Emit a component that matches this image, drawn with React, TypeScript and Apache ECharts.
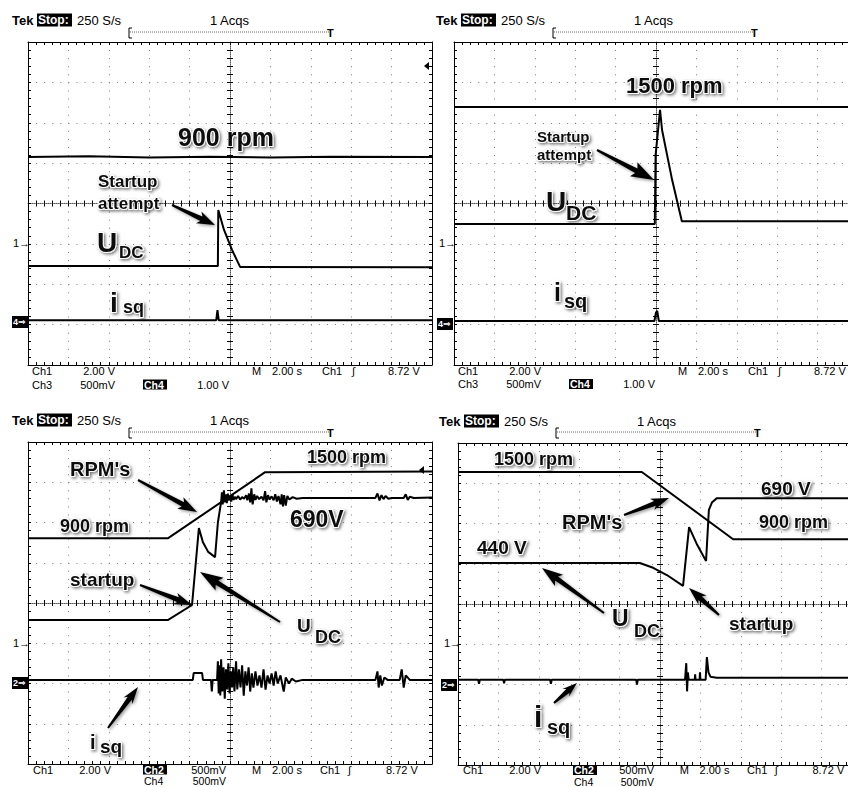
import React, { useEffect, useRef } from "react";
import * as echarts from "echarts";

// ---------- scope screen (divisions): x 0..10, y 0..8 ----------
const X_MIN = 0;
const X_MAX = 10;
const Y_MIN = 0;
const Y_MAX = 8;

// ---------- Panel 1: 900 rpm, startup attempt ----------
const p1Rpm = [[0, 5.15], [1.5, 5.17], [3, 5.14], [4.5, 5.16], [6, 5.14], [7.5, 5.16], [10, 5.15]];
const p1Udc = [[0, 2.45], [4.7, 2.45], [4.71, 3.84], [4.85, 3.35], [5.05, 2.85], [5.25, 2.43], [10, 2.42]];
const p1Isq = [[0, 1.11], [4.66, 1.11], [4.69, 1.36], [4.72, 1.11], [10, 1.11]];

// ---------- Panel 2: 1500 rpm, startup attempt ----------
const p2Rpm = [[0, 6.39], [10, 6.39]];
const p2Udc = [[0, 3.49], [4.97, 3.49], [4.99, 5.2], [5.1, 6.32], [5.15, 5.82], [5.4, 4.58], [5.64, 3.56], [10, 3.56]];
const p2Isq = [[0, 1.09], [4.96, 1.09], [5.0, 1.3], [5.03, 1.34], [5.07, 1.09], [10, 1.09]];

// ---------- Panel 3: 900 -> 1500 rpm, startup ----------
const p3Rpm = [[0, 5.61], [3.47, 5.61], [5.87, 7.25], [10, 7.27]];
const p3Udc = [
  [0, 3.58], [3.47, 3.58], [4.06, 3.95], [4.23, 5.86], [4.33, 5.51], [4.46, 5.27], [4.63, 5.14], [4.7, 6.0], [4.78, 6.51],
  [4.8, 6.75], [4.82, 6.45], [4.85, 6.8], [4.87, 6.5], [4.9, 6.7], [4.92, 6.48], [4.95, 6.72], [4.97, 6.55], [5.0, 6.66],
  [5.03, 6.52], [5.06, 6.7], [5.09, 6.56], [5.12, 6.64], [5.15, 6.58], [5.2, 6.66], [5.25, 6.57], [5.3, 6.63], [5.35, 6.59],
  [5.4, 6.68], [5.43, 6.55], [5.47, 6.72], [5.5, 6.5], [5.53, 6.85], [5.56, 6.45], [5.6, 6.7], [5.63, 6.56], [5.67, 6.66],
  [5.72, 6.58], [5.78, 6.64], [5.83, 6.55], [5.87, 6.78], [5.9, 6.5], [5.94, 6.68], [5.98, 6.57], [6.03, 6.65], [6.08, 6.55],
  [6.12, 6.7], [6.16, 6.52], [6.2, 6.66], [6.25, 6.45], [6.28, 6.7], [6.31, 6.4], [6.34, 6.68], [6.38, 6.42], [6.42, 6.66],
  [6.47, 6.57], [6.55, 6.63], [6.65, 6.59], [6.8, 6.61], [8.6, 6.61], [8.65, 6.72], [8.7, 6.55], [8.75, 6.68], [8.8, 6.58],
  [8.85, 6.66], [8.92, 6.59], [9.0, 6.61], [9.3, 6.61], [9.35, 6.7], [9.4, 6.56], [9.45, 6.64], [9.55, 6.61], [10, 6.62],
];
const p3Isq = [
  [0, 2.09], [4.08, 2.09], [4.1, 2.26], [4.31, 2.26], [4.33, 2.09], [4.53, 2.09], [4.55, 1.8], [4.57, 2.09], [4.68, 2.09],
  [4.7, 2.55], [4.72, 1.75], [4.74, 2.45], [4.76, 1.7], [4.78, 2.6], [4.81, 1.8], [4.84, 2.4], [4.87, 1.62], [4.9, 2.35],
  [4.93, 1.85], [4.96, 2.5], [4.99, 1.75], [5.02, 2.3], [5.05, 1.9], [5.08, 2.4], [5.11, 1.8], [5.15, 2.55], [5.18, 1.85],
  [5.22, 2.35], [5.26, 1.9], [5.3, 2.45], [5.34, 1.7], [5.38, 2.3], [5.42, 1.95], [5.46, 2.4], [5.5, 1.8], [5.54, 2.25],
  [5.58, 1.9], [5.63, 2.3], [5.68, 1.95], [5.73, 2.2], [5.78, 1.9], [5.83, 2.35], [5.88, 1.85], [5.93, 2.2], [5.98, 2.0],
  [6.03, 2.25], [6.08, 1.95], [6.13, 2.3], [6.18, 2.0], [6.25, 2.2], [6.33, 1.8], [6.38, 2.15], [6.46, 2.0], [6.53, 2.12],
  [6.63, 2.05], [6.8, 2.09], [8.6, 2.09], [8.65, 2.3], [8.68, 1.9], [8.72, 2.2], [8.76, 1.95], [8.82, 2.15], [8.9, 2.09],
  [9.2, 2.09], [9.25, 2.35], [9.3, 1.9], [9.35, 2.2], [9.45, 2.09], [10, 2.09],
];

// ---------- Panel 4: 1500 -> 900 rpm, startup ----------
const p4Rpm = [[0, 7.28], [4.55, 7.28], [6.81, 5.61], [10, 5.61]];
const p4Udc = [
  [0, 5.02], [4.5, 5.02], [4.83, 4.9], [5.17, 4.72], [5.57, 4.45], [5.72, 5.91], [5.92, 5.47], [6.14, 5.07],
  [6.21, 6.34], [6.29, 6.53], [6.41, 6.63], [10, 6.63],
];
const p4Isq = [
  [0, 2.12], [0.5, 2.12], [0.52, 2.02], [0.54, 2.12], [1.12, 2.12], [1.14, 2.03], [1.16, 2.12], [2.28, 2.12], [2.3, 2.02],
  [2.32, 2.12], [4.41, 2.12], [4.43, 2.0], [4.45, 2.12], [5.62, 2.12], [5.65, 2.53], [5.67, 1.83], [5.69, 2.3], [5.71, 2.12],
  [5.86, 2.12], [5.87, 2.25], [5.88, 2.12], [5.98, 2.12], [5.99, 2.3], [6.0, 2.12], [6.13, 2.12], [6.16, 2.68], [6.2, 2.3],
  [6.25, 2.19], [6.4, 2.17], [10, 2.17],
];

// ---------- texts ----------
const HEADER = ["Tek", "Stop:", "250 S/s", "1 Acqs"];
const CH_MARK = "1\u2192";
const PANEL_LAYOUT = [
  { left: 28, top: 42, width: 404, height: 323 },
  { left: 454, top: 42, width: 404, height: 323 },
  { left: 28, top: 442, width: 404, height: 322 },
  { left: 458, top: 443, width: 404, height: 322 },
];
const AXES_PER_GRID = 5;

const FONT_UI = "'Liberation Sans', 'DejaVu Sans', sans-serif";
const FONT_ANN = "'Liberation Sans', Arial, sans-serif";

function txt(text: string, x: number, y: number, size: number, o: any = {}) {
  const align = o.align || "left";
  return {
    type: "text",
    x,
    y,
    z: o.z || 100,
    silent: true,
    style: {
      text,
      fill: o.fill || "#000",
      font: `${o.weight || "normal"} ${size}px ${o.family || FONT_UI}`,
      align,
      textAlign: align,
      verticalAlign: "middle",
      textVerticalAlign: "middle",
      ...(o.style || {}),
    },
  };
}

function ann(text: string, x: number, y: number, size: number) {
  return txt(text, x, y, size, {
    weight: "bold",
    family: FONT_ANN,
    fill: "#0a0a0a",
    z: 120,
    style: {
      stroke: "#ffffff",
      lineWidth: 2,
      textShadowColor: "rgba(0,0,0,0.55)",
      textShadowBlur: 3,
      textShadowOffsetX: 1.5,
      textShadowOffsetY: 1.5,
    },
  });
}

function box(x: number, y: number, w: number, h: number) {
  return { type: "rect", z: 99, silent: true, shape: { x, y, width: w, height: h }, style: { fill: "#000" } };
}

function inv(text: string, x: number, y: number, w: number, size = 11, h = 12) {
  return [box(x, y - h / 2, w, h), txt(text, x + 1, y, size, { weight: "bold", fill: "#fff" })];
}

function arrow(x1: number, y1: number, x2: number, y2: number, head = 16, headW = 13, tail = 2, neck = 5) {
  const dx = x2 - x1;
  const dy = y2 - y1;
  const len = Math.hypot(dx, dy);
  const ux = dx / len;
  const uy = dy / len;
  const nx = -uy;
  const ny = ux;
  const bx = x2 - ux * head;
  const by = y2 - uy * head;
  const pts = [
    [x1 + (nx * tail) / 2, y1 + (ny * tail) / 2],
    [bx + (nx * neck) / 2, by + (ny * neck) / 2],
    [bx + (nx * headW) / 2 - ux * 3, by + (ny * headW) / 2 - uy * 3],
    [x2, y2],
    [bx - (nx * headW) / 2 - ux * 3, by - (ny * headW) / 2 - uy * 3],
    [bx - (nx * neck) / 2, by - (ny * neck) / 2],
    [x1 - (nx * tail) / 2, y1 - (ny * tail) / 2],
  ];
  return {
    type: "polygon",
    z: 110,
    silent: true,
    shape: { points: pts },
    style: { fill: "#000", shadowBlur: 3, shadowColor: "rgba(0,0,0,0.4)", shadowOffsetX: 1.5, shadowOffsetY: 1.5 },
  };
}

function header(tx: number, y: number, by: number) {
  return [
    txt(HEADER[0], tx, y, 13, { weight: "bold" }),
    ...inv(HEADER[1], tx + 25, y, 35, 12, 13),
    txt(HEADER[2], tx + 65, y, 13),
    txt(HEADER[3], tx + 198, y, 13),
    {
      type: "polyline",
      z: 100,
      silent: true,
      shape: { points: [[tx + 120, by - 5], [tx + 117, by - 5], [tx + 117, by + 5], [tx + 120, by + 5]] },
      style: { stroke: "#000", fill: null, lineWidth: 1 },
    },
    {
      type: "line",
      z: 100,
      silent: true,
      shape: { x1: tx + 118, y1: by - 1, x2: tx + 317, y2: by - 1 },
      style: { stroke: "#666", lineWidth: 1, lineDash: [1, 1] },
    },
    txt("T", tx + 315, by, 11, { weight: "bold" }),
  ];
}

function footer(spec: any[]) {
  const out: any[] = [];
  spec.forEach((s) => {
    if (s.inv) out.push(...inv(s.t, s.x, s.y, s.w, 10.5, 10));
    else out.push(txt(s.t, s.x, s.y, s.s || 11, { align: s.a || "left" }));
  });
  return out;
}

function footerA(gl: number, y1: number, y2: number) {
  return footer([
    { t: "Ch1", x: gl + 4, y: y1 },
    { t: "2.00 V", x: gl + 87, y: y1, a: "right" },
    { t: "M", x: gl + 224, y: y1 },
    { t: "2.00 s", x: gl + 244, y: y1 },
    { t: "Ch1", x: gl + 294, y: y1 },
    { t: "\u222B", x: gl + 324, y: y1 },
    { t: "8.72 V", x: gl + 360, y: y1 },
    { t: "Ch3", x: gl + 4, y: y2 },
    { t: "500mV", x: gl + 87, y: y2, a: "right" },
    { t: "Ch4", x: gl + 115, y: y2, inv: true, w: 24 },
    { t: "1.00 V", x: gl + 201, y: y2, a: "right" },
  ]);
}

function footerB(gl: number, y1: number, y2: number, k: number) {
  return footer([
    { t: "Ch1", x: gl + 5, y: y1 },
    { t: "2.00 V", x: gl + 83, y: y1, a: "right" },
    { t: "Ch2", x: gl + 115, y: y1, inv: true, w: 24 },
    { t: "500mV", x: gl + 198 * k, y: y1, a: "right" },
    { t: "M", x: gl + 224 * k, y: y1 },
    { t: "2.00 s", x: gl + 244 * k, y: y1 },
    { t: "Ch1", x: gl + 292 * k, y: y1 },
    { t: "\u222B", x: gl + 320 * k, y: y1 },
    { t: "8.72 V", x: gl + 358 * k, y: y1 },
    { t: "Ch4", x: gl + 116, y: y2, s: 10.5 },
    { t: "500mV", x: gl + 198 * k, y: y2, a: "right", s: 10.5 },
  ]);
}

function markers(x1: number, y1: number, bx: number, by: number, label: string) {
  return [
    txt(CH_MARK, x1, y1, 11),
    box(bx, by - 6, 16, 12),
    txt(label + "\u21D2", bx + 1, by, 9, { weight: "bold", fill: "#fff" }),
  ];
}

function trig(x: number, y: number) {
  return {
    type: "polygon",
    z: 100,
    silent: true,
    shape: { points: [[x, y], [x + 5, y - 4], [x + 5, y + 4]] },
    style: { fill: "#000" },
  };
}

function buildOption() {
  const xAxis: any[] = [];
  const yAxis: any[] = [];
  PANEL_LAYOUT.forEach((g, i) => {
    const dx = g.width / 50;
    const dy = g.height / 40;
    const bx = {
      gridIndex: i, type: "value", min: X_MIN, max: X_MAX, interval: 1, silent: true,
      axisLabel: { show: false },
    };
    const by = {
      gridIndex: i, type: "value", min: Y_MIN, max: Y_MAX, interval: 1, silent: true,
      axisLabel: { show: false },
    };
    const border = { show: true, onZero: false, lineStyle: { color: "#000", width: 1 } };
    const noLine = { show: false, onZero: false };
    const tk = (inside: boolean) => ({ show: true, inside, length: 3, lineStyle: { color: "#000", width: 1 } });
    const minor = { show: true, splitNumber: 5, length: 3, lineStyle: { color: "#000", width: 1 } };
    xAxis.push({
      ...bx, position: "bottom", axisLine: border, axisTick: tk(true), minorTick: minor,
      splitLine: { show: true, lineStyle: { color: "#7a7a7a", width: 1, type: [1, dy - 1] } },
    });
    xAxis.push({ ...bx, position: "top", axisLine: border, axisTick: tk(true), minorTick: minor, splitLine: { show: false } });
    xAxis.push({
      ...bx, position: "bottom", offset: -g.height / 2, axisLine: noLine, axisTick: tk(true), minorTick: minor,
      splitLine: { show: false },
    });
    xAxis.push({
      ...bx, position: "bottom", offset: -g.height / 2, axisLine: noLine, axisTick: tk(false), minorTick: minor,
      splitLine: { show: false },
    });
    xAxis.push({
      ...bx, position: "bottom", offset: -g.height / 2,
      axisLine: { show: true, onZero: false, lineStyle: { color: "#555", width: 1, type: [1, 1] } },
      axisTick: { show: false }, splitLine: { show: false },
    });
    yAxis.push({
      ...by, position: "left", axisLine: border, axisTick: tk(true), minorTick: minor,
      splitLine: { show: true, lineStyle: { color: "#7a7a7a", width: 1, type: [1, dx - 1] } },
    });
    yAxis.push({ ...by, position: "right", axisLine: border, axisTick: tk(true), minorTick: minor, splitLine: { show: false } });
    yAxis.push({
      ...by, position: "left", offset: -g.width / 2, axisLine: noLine, axisTick: tk(true), minorTick: minor,
      splitLine: { show: false },
    });
    yAxis.push({
      ...by, position: "left", offset: -g.width / 2, axisLine: noLine, axisTick: tk(false), minorTick: minor,
      splitLine: { show: false },
    });
    yAxis.push({
      ...by, position: "left", offset: -g.width / 2,
      axisLine: { show: true, onZero: false, lineStyle: { color: "#555", width: 1, type: [1, 1] } },
      axisTick: { show: false }, splitLine: { show: false },
    });
  });

  const traces = [
    [0, p1Rpm], [0, p1Udc], [0, p1Isq],
    [1, p2Rpm], [1, p2Udc], [1, p2Isq],
    [2, p3Rpm], [2, p3Udc], [2, p3Isq],
    [3, p4Rpm], [3, p4Udc], [3, p4Isq],
  ] as [number, number[][]][];

  const series = traces.map(([gi, data]) => ({
    type: "line",
    xAxisIndex: gi * AXES_PER_GRID,
    yAxisIndex: gi * AXES_PER_GRID,
    data,
    showSymbol: false,
    symbol: "none",
    silent: true,
    clip: true,
    z: 10,
    lineStyle: { color: "#000", width: 2 },
  }));

  const elements: any[] = [
    // headers
    ...header(12, 20, 33),
    ...header(436, 20, 33),
    ...header(12, 420, 433),
    ...header(439, 421, 433),
    // footers
    ...footerA(28, 370.5, 384.5),
    ...footerA(454, 371, 384),
    ...footerB(28, 769.5, 781, 1),
    ...footerB(458, 770, 781.5, 0.99),
    // channel markers
    ...markers(13, 243, 12, 322, "4"),
    ...markers(439, 243, 437, 324, "4"),
    ...markers(13, 643, 12, 683, "2"),
    ...markers(444, 643, 441, 685, "2"),
    trig(424, 66),
    trig(419, 470),

    // ---- panel 1 annotations ----
    ann("900 rpm", 178, 137, 25),
    ann("Startup", 98, 181, 17),
    ann("attempt", 98, 203, 17),
    arrow(172, 205, 215, 225, 15, 13),
    ann("U", 97, 242, 28),
    ann("DC", 119, 252, 17),
    ann("i", 110, 302, 28),
    ann("sq", 123, 307, 18),

    // ---- panel 2 annotations ----
    ann("1500 rpm", 626, 85, 22),
    ann("Startup", 537, 136, 15),
    ann("attempt", 537, 154, 15),
    arrow(597, 150, 654, 180, 20, 16),
    ann("U", 546, 201, 28),
    ann("DC", 566, 212, 21),
    ann("i", 554, 292, 25),
    ann("sq", 564, 301, 20),

    // ---- panel 3 annotations ----
    ann("RPM's", 70, 469, 20),
    arrow(138, 480, 197, 512, 16, 13),
    ann("1500 rpm", 307, 457, 18),
    ann("690V", 290, 519, 23),
    ann("900 rpm", 60, 526, 18),
    ann("startup", 70, 579, 19),
    arrow(140, 585, 192, 605, 15, 12),
    ann("U", 297, 625, 19),
    ann("DC", 315, 637, 18),
    arrow(280, 622, 200, 572, 20, 15),
    ann("i", 90, 742, 20),
    ann("sq", 100, 746, 19),
    arrow(108, 728, 138, 687, 14, 11),

    // ---- panel 4 annotations ----
    ann("1500 rpm", 494, 459, 18),
    ann("690 V", 761, 488, 19),
    ann("900 rpm", 759, 522, 18),
    ann("RPM's", 562, 522, 20),
    arrow(624, 515, 669, 498, 15, 12),
    ann("440 V", 477, 547, 19),
    ann("U", 612, 618, 23),
    ann("DC", 634, 631, 18),
    arrow(604, 613, 542, 568, 18, 14),
    ann("startup", 729, 623, 19),
    arrow(719, 615, 689, 588, 15, 12),
    ann("i", 534, 716, 30),
    ann("sq", 547, 727, 20),
    arrow(554, 703, 577, 683, 12, 10),
  ];

  return {
    animation: false,
    backgroundColor: "#ffffff",
    grid: PANEL_LAYOUT.map((g) => ({ ...g, show: false, containLabel: false, outerBoundsMode: "none" })),
    xAxis,
    yAxis,
    series,
    graphic: { elements },
  };
}

export default function App() {
  const ref = useRef<HTMLDivElement>(null);
  useEffect(() => {
    document.body.style.margin = "0";
    const chart = echarts.init(ref.current as HTMLDivElement, null, { renderer: "svg" });
    chart.setOption(buildOption() as any);
    return () => chart.dispose();
  }, []);
  return <div ref={ref} style={{ width: 848, height: 787 }} />;
}
